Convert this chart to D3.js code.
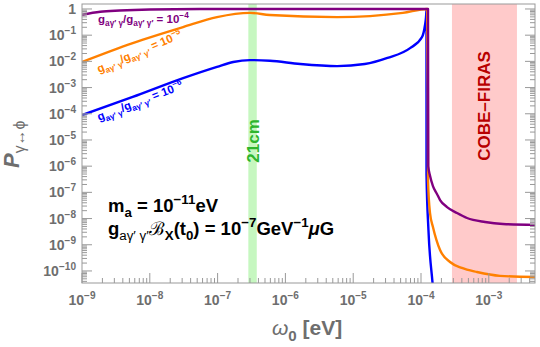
<!DOCTYPE html>
<html>
<head>
<meta charset="utf-8">
<script src="https://cdn.jsdelivr.net/npm/d3@7"></script>
<style>
  body { margin: 0; background: #fff; }
  text { font-family: "Liberation Sans", Arial, sans-serif; }
</style>
</head>
<body>
<div id="chart"></div>
<script>
// curves: [omega (eV), P]
const purple = [
  [1e-9, 0.60], [1.86e-9, 0.78], [3.6e-9, 0.87], [1e-8, 0.955], [5.5e-8, 1.0],
  [1e-5, 1.0], [1.268e-4, 1.0], [1.28e-4, 1e-6], [1.358e-4, 4.3e-7], [1.50e-4, 1.74e-7],
  [1.72e-4, 8.7e-8], [1.91e-4, 5.1e-8], [2.42e-4, 2.75e-8], [3.40e-4, 1.62e-8],
  [4.77e-4, 1.05e-8], [8.8e-4, 7.4e-9], [1.62e-3, 6.2e-9], [4.8e-3, 5.75e-9]
]
const orange = [
  [1e-9, 9.5e-3], [5.6e-9, 0.050], [3.1e-8, 0.204], [9.8e-8, 0.49], [3.0e-7, 0.71],
  [5.9e-7, 0.59], [5.8e-6, 0.49], [5.4e-5, 0.71], [1.23e-4, 1.0], [1.259e-4, 1e-3],
  [1.268e-4, 2.95e-7], [1.358e-4, 1.62e-8], [1.50e-4, 4.8e-9], [1.91e-4, 6.3e-10],
  [2.68e-4, 2.2e-10], [4.0e-4, 1.3e-10], [6.7e-4, 9.1e-11], [1.46e-3, 6.5e-11], [4.8e-3, 5.9e-11]
]
const blue = [
  [1e-9, 8.9e-5], [5.6e-9, 4.4e-4], [3.1e-8, 2.3e-3], [9.8e-8, 6.2e-3], [1.7e-7, 9.5e-3],
  [3.0e-7, 1.12e-2], [5.9e-7, 1.05e-2], [1.66e-6, 7.9e-3], [5.8e-6, 6.6e-3], [1.48e-5, 7.9e-3],
  [3.2e-5, 1.35e-2], [6.9e-5, 3.2e-2], [1.035e-4, 8.5e-2], [1.146e-4, 0.245], [1.186e-4, 0.49],
  [1.205e-4, 0.91], [1.206e-4, 4.6e-7], [1.288e-4, 3.6e-9], [1.479e-4, 3.5e-11], [1.549e-4, 8e-12]
]
const bands = [
  { name: '21cm', from: 2.84e-7, to: 3.78e-7, fill: '#c6f7c0', text: '#2db52d' },
  { name: 'COBE\u2013FIRAS', from: 2.86e-4, to: 2.6e-3, fill: '#ffcaca', text: '#b80000' }
]
const ratios = ['\u22124', '\u22125', '\u22126']
const xTickExps = [-9, -8, -7, -6, -5, -4, -3]
const yTickExps = [0, -1, -2, -3, -4, -5, -6, -7, -8, -9, -10]

const width = 540, height = 347
const padL = 82, padR = 535, padT = 4, padB = 283
const grey = '#999', labelGrey = '#6e6e6e'

const svg = d3.select('#chart').append('svg')
  .attr('width', width).attr('height', height)

const scaleX = d3.scaleLog().domain([1e-9, 4.8e-3]).range([padL, padR])
const scaleY = d3.scaleLog().domain([Math.pow(10, -10.46), Math.pow(10, 0.19)]).range([padB, padT])

svg.append('clipPath').attr('id', 'plot')
  .append('rect').attr('x', padL).attr('y', padT).attr('width', padR - padL).attr('height', padB - padT)

// rich text helper: parts = [text, 'n' | 'sub' | 'sup', extra style]
function rich(sel, parts, size) {
  let shift = 0
  parts.forEach(p => {
    const kind = p[1] || 'n'
    const target = kind === 'sub' ? size * 0.28 : kind === 'sup' ? -size * 0.42 : 0
    const t = sel.append('tspan')
      .attr('dy', target - shift)
      .attr('font-size', kind === 'n' ? size : size * 0.72)
      .text(p[0])
    shift = target
    if (p[2]) Object.keys(p[2]).forEach(k => t.style(k, p[2][k]))
  })
  return sel
}

// bands
let bandG = svg.append('g').attr('clip-path', 'url(#plot)')
bandG.selectAll('rect')
  .data(bands)
  .enter()
  .append('rect')
  .attr('x', d => scaleX(d.from))
  .attr('width', d => scaleX(d.to) - scaleX(d.from))
  .attr('y', padT)
  .attr('height', padB - padT)
  .attr('fill', d => d.fill)

// curves
const line = d3.line()
  .x(d => scaleX(d[0]))
  .y(d => scaleY(d[1]))
  .curve(d3.curveMonotoneX)

let curveG = svg.append('g').attr('clip-path', 'url(#plot)')
;[[blue, '#0000ff'], [orange, '#ff8000'], [purple, '#800080']].forEach(c => {
  curveG.append('path')
    .attr('d', line(c[0]))
    .attr('fill', 'none')
    .attr('stroke', c[1])
    .attr('stroke-width', 2.4)
    .attr('stroke-linejoin', 'round')
})

// band labels
svg.append('text')
  .attr('transform', `translate(${(scaleX(bands[0].from) + scaleX(bands[0].to)) / 2 + 6}, 141) rotate(-90)`)
  .attr('text-anchor', 'middle')
  .attr('font-size', 17).attr('font-weight', 'bold')
  .attr('fill', bands[0].text)
  .text(bands[0].name)
svg.append('text')
  .attr('transform', `translate(${(scaleX(bands[1].from) + scaleX(bands[1].to)) / 2 + 6}, 106) rotate(-90)`)
  .attr('text-anchor', 'middle')
  .attr('font-size', 17).attr('font-weight', 'bold')
  .attr('fill', bands[1].text)
  .text(bands[1].name)

// curve labels
const labelPos = [
  { x: 98, y: 23, angle: 0, color: '#800080' },
  { x: 99, y: 73, angle: -23, color: '#ff8000' },
  { x: 99, y: 121, angle: -21, color: '#0000ff' }
]
ratios.forEach((r, i) => {
  const p = labelPos[i]
  const t = svg.append('text')
    .attr('transform', `translate(${p.x},${p.y}) rotate(${p.angle})`)
    .attr('fill', p.color).attr('font-weight', 'bold')
  rich(t, [['g'], ['a\u03b3\u2032 \u03b3', 'sub'], ['/g'], ['a\u03b3\u2032 \u03b3\u2032', 'sub'], [' = 10'], [r, 'sup']], 11.5)
})

// annotation
const ann1 = svg.append('text').attr('x', 108).attr('y', 212).attr('font-weight', 'bold').attr('fill', '#000')
rich(ann1, [['m'], ['a', 'sub'], [' = 10'], ['\u221211', 'sup'], ['eV']], 18.5)
const ann2 = svg.append('text').attr('x', 108).attr('y', 235).attr('font-weight', 'bold').attr('fill', '#000')
rich(ann2, [['g'], ['a\u03b3\u2032 \u03b3\u2032', 'sub', { 'font-weight': 'normal' }], ['\u212c', 'n', { 'font-weight': 'normal', 'font-family': 'DejaVu Serif' }],
  ['X', 'sub'], ['(t'], ['0', 'sub'], [') = 10'], ['\u22127', 'sup'], ['GeV'], ['\u22121', 'sup'], ['\u03bc', 'n', { 'font-style': 'italic' }], ['G']], 18.5)

// frame
svg.append('rect')
  .attr('x', padL).attr('y', padT).attr('width', padR - padL).attr('height', padB - padT)
  .attr('fill', 'none').attr('stroke', grey).attr('stroke-width', 1)

// ticks
const minor = k => d3.range(2, 10).map(m => m * Math.pow(10, k))
const xMinor = d3.range(-9, -2).flatMap(minor).filter(v => v < 4.8e-3)
const yMinor = d3.range(-11, 0).flatMap(minor).filter(v => v > Math.pow(10, -10.46) && v < Math.pow(10, 0.19))

let xTicks = svg.append('g').attr('stroke', grey)
xTicks.selectAll('line.major').data(xTickExps).enter().append('line')
  .attr('x1', d => scaleX(Math.pow(10, d))).attr('x2', d => scaleX(Math.pow(10, d)))
  .attr('y1', padB).attr('y2', padB - 10)
xTicks.selectAll('line.minor').data(xMinor).enter().append('line')
  .attr('x1', d => scaleX(d)).attr('x2', d => scaleX(d))
  .attr('y1', padB).attr('y2', padB - 5)

let yTicks = svg.append('g').attr('stroke', grey)
;[[padL, 1], [padR, -1]].forEach(s => {
  yTicks.append('g').selectAll('line').data(yTickExps).enter().append('line')
    .attr('x1', s[0]).attr('x2', s[0] + s[1] * 10)
    .attr('y1', d => scaleY(Math.pow(10, d))).attr('y2', d => scaleY(Math.pow(10, d)))
  yTicks.append('g').selectAll('line').data(yMinor).enter().append('line')
    .attr('x1', s[0]).attr('x2', s[0] + s[1] * 5)
    .attr('y1', d => scaleY(d)).attr('y2', d => scaleY(d))
})

// tick labels
xTickExps.forEach(e => {
  const t = svg.append('text')
    .attr('x', scaleX(Math.pow(10, e))).attr('y', 305)
    .attr('text-anchor', 'middle').attr('fill', labelGrey).attr('font-weight', 'bold')
  rich(t, [['10'], ['\u2212' + (-e), 'sup']], 14)
})
yTickExps.forEach(e => {
  const t = svg.append('text')
    .attr('x', 76).attr('y', scaleY(Math.pow(10, e)) + 5)
    .attr('text-anchor', 'end').attr('fill', labelGrey).attr('font-weight', 'bold')
  if (e === 0) t.attr('font-size', 14).text('1')
  else rich(t, [['10'], ['\u2212' + (-e), 'sup']], 14)
})

// axis titles
const xt = svg.append('text').attr('x', 272).attr('y', 335).attr('fill', labelGrey).attr('font-weight', 'bold')
rich(xt, [['\u03c9', 'n', { 'font-style': 'italic', 'font-weight': 'normal' }], ['0', 'sub'], [' [eV]']], 21)
const yt = svg.append('text').attr('transform', 'translate(19,168) rotate(-90)').attr('fill', labelGrey).attr('font-weight', 'bold')
rich(yt, [['P', 'n', { 'font-style': 'italic' }], ['\u03b3\u2194\u03d5', 'sub', { 'font-weight': 'normal' }]], 22)
</script>
</body>
</html>
